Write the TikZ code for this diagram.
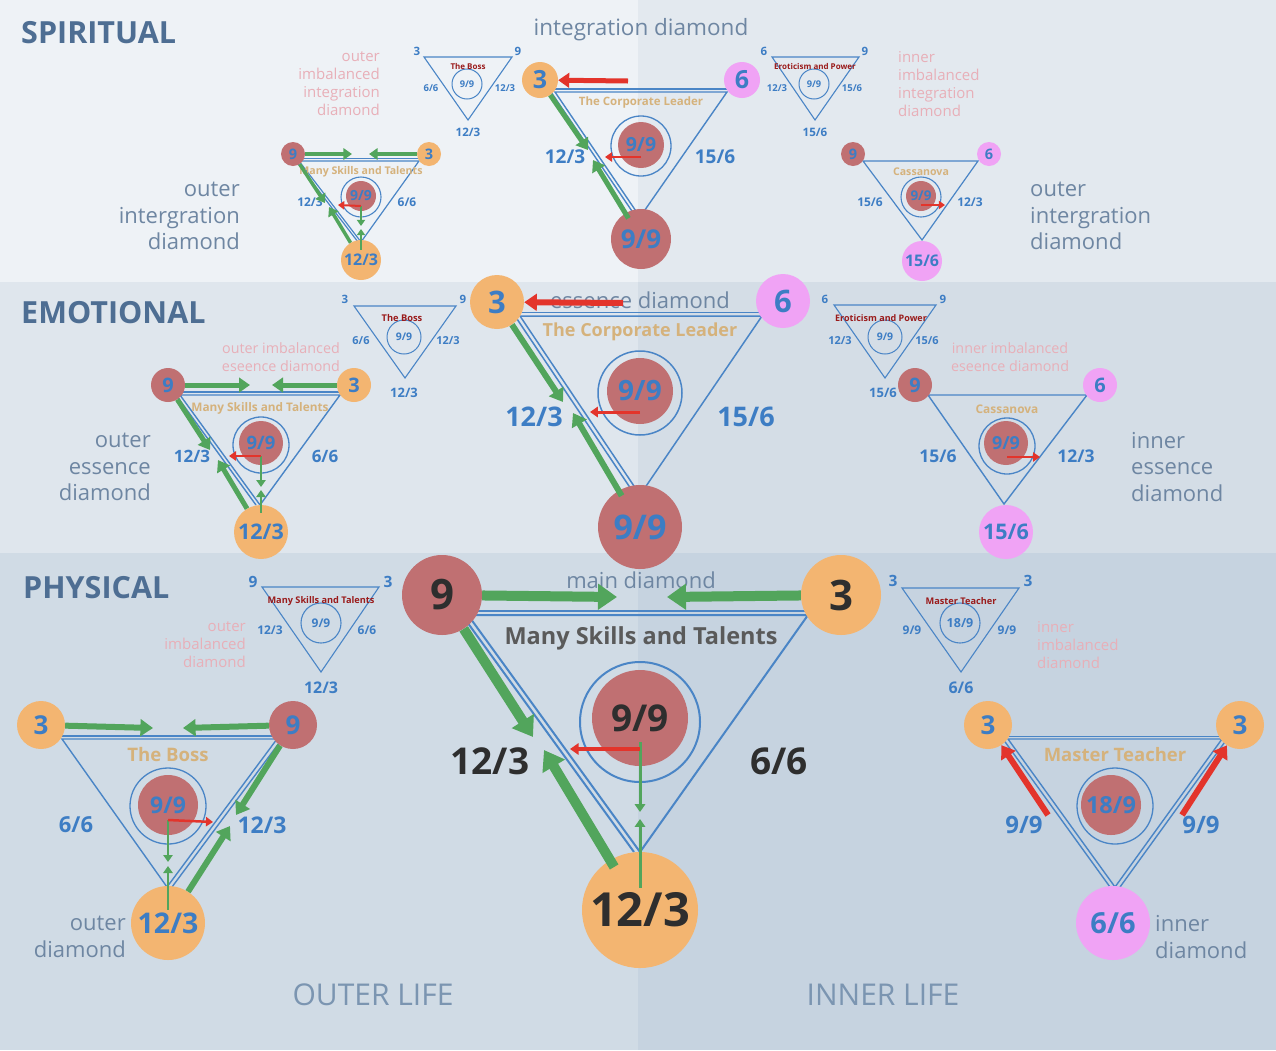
\documentclass[tikz,border=0pt]{standalone}
\usepackage{fontspec}
\setmainfont{Open Sans}
\usetikzlibrary{arrows.meta}
\definecolor{bgSa}{HTML}{EEF2F6}
\definecolor{bgSb}{HTML}{E3E9EF}
\definecolor{bgEa}{HTML}{DFE6ED}
\definecolor{bgEb}{HTML}{D4DDE6}
\definecolor{bgPa}{HTML}{D0DBE5}
\definecolor{bgPb}{HTML}{C6D3E0}
\definecolor{numblue}{HTML}{3D7DC4}
\definecolor{lblue}{HTML}{4A85C6}
\definecolor{corange}{HTML}{F3B571}
\definecolor{cred}{HTML}{C07072}
\definecolor{cpink}{HTML}{F0A3F5}
\definecolor{cgreen}{HTML}{52A55C}
\definecolor{carrow}{HTML}{E3342B}
\definecolor{ctan}{HTML}{D5B27C}
\definecolor{cdred}{HTML}{9A1B1B}
\definecolor{cimb}{HTML}{E8AFB8}
\definecolor{cslate}{HTML}{6E86A2}
\definecolor{chdr}{HTML}{4E6E93}
\definecolor{ccol}{HTML}{7B95B1}
\definecolor{cdark}{HTML}{2E2E2E}
\definecolor{cgray}{HTML}{5A5A5A}
\newcommand{\bsz}[1]{\fontsize{#1}{#1}\selectfont\bfseries}
\newcommand{\rsz}[2]{\fontsize{#1}{#2}\selectfont}

\begin{document}
\begin{tikzpicture}[x=1pt,y=-1pt,
    vx/.style={circle,inner sep=0pt,text=numblue},
    oc/.style={vx,fill=corange},
    rc/.style={vx,fill=cred},
    pc/.style={vx,fill=cpink},
    ring/.style={circle,draw=lblue,line width=1.3,inner sep=0pt,text=numblue},
    core/.style={circle,fill=cred,inner sep=0pt,text=numblue},
    edge/.style={draw=lblue,line width=1.4},
    medge/.style={draw=lblue,line width=1.1},
    num/.style={text=numblue,inner sep=0pt},
    ttl/.style={text=ctan,inner sep=0pt},
    mttl/.style={text=cdred,inner sep=0pt},
    imb/.style={text=cimb,inner sep=0pt},
    lbl/.style={text=cslate,inner sep=0pt},
    hdr/.style={text=chdr,inner sep=0pt,anchor=west,font=\bsz{30.5}},
    garr/.style={draw=cgreen,line width=#1,-{Triangle[length=3pt 1.6,width=4pt 2.1]}},
    rarr/.style={draw=carrow,line width=#1,-{Triangle[length=3pt 1.6,width=4pt 2.1]}}]
  \useasboundingbox (0,0) rectangle (1276,1050);
  \fill[bgSa] (0,0) rectangle (638,282);
  \fill[bgSb] (638,0) rectangle (1276,282);
  \fill[bgEa] (0,282) rectangle (638,553);
  \fill[bgEb] (638,282) rectangle (1276,553);
  \fill[bgPa] (0,553) rectangle (638,1050);
  \fill[bgPb] (638,553) rectangle (1276,1050);

  \node[hdr] (hS) at (21,33) {SPIRITUAL};
  \node[hdr] (hE) at (21,313) {EMOTIONAL};
  \node[hdr] (hP) at (23,588) {PHYSICAL};
  \node[text=ccol,font=\rsz{30}{30}] (cO) at (373,995) {OUTER LIFE};
  \node[text=ccol,font=\rsz{30}{30}] (cI) at (883,995) {INNER LIFE};

  \node[lbl,font=\rsz{22.5}{26.5}] (smN) at (641,30) {integration diamond};
  \node[imb,font=\rsz{15}{18},align=right,anchor=east] (slI) at (380,84) {outer\\imbalanced\\integration\\diamond};
  \node[imb,font=\rsz{15}{18},align=left,anchor=west] (srI) at (898,84) {inner\\imbalanced\\integration\\diamond};
  \node[lbl,font=\rsz{22}{26.5},align=right,anchor=east] (slN) at (240,216) {outer\\intergration\\diamond};
  \node[lbl,font=\rsz{22}{26.5},align=left,anchor=west] (srN) at (1030,216) {outer\\intergration\\diamond};

  \coordinate (sbA) at (424,57);
  \coordinate (sbB) at (512,57);
  \coordinate (sbC) at (468,120);
  \draw[medge] (sbA) -- (sbB) -- (sbC) -- cycle;
  \node[ring,line width=1,minimum size=30,font=\bsz{9.3}] (sbR) at (467,84) {9/9};
  \node[num,font=\bsz{11.5}] (sb3) at (417,51) {3};
  \node[num,font=\bsz{11.5}] (sb9) at (518,51) {9};
  \node[mttl,font=\bsz{8}] (sbT) at (468,66) {The Boss};
  \node[num,font=\bsz{9.5}] (sbL) at (431,88) {6/6};
  \node[num,font=\bsz{9.5}] (sbE) at (505,88) {12/3};
  \node[num,font=\bsz{11.6}] (sbD) at (468,132) {12/3};

  \coordinate (seA) at (772,57);
  \coordinate (seB) at (859,57);
  \coordinate (seC) at (815,120);
  \draw[medge] (seA) -- (seB) -- (seC) -- cycle;
  \node[ring,line width=1,minimum size=30,font=\bsz{9.3}] (seR) at (814,84) {9/9};
  \node[num,font=\bsz{11.5}] (se6) at (764,51) {6};
  \node[num,font=\bsz{11.5}] (se9) at (865,51) {9};
  \node[mttl,font=\bsz{8}] (seT) at (815,66) {Eroticism and Power};
  \node[num,font=\bsz{9.5}] (seL) at (777,88) {12/3};
  \node[num,font=\bsz{9.5}] (seE) at (852,88) {15/6};
  \node[num,font=\bsz{11.6}] (seD) at (815,132) {15/6};

  \coordinate (smA) at (555,92);
  \coordinate (smB) at (727,92);
  \coordinate (smC) at (640,217);
  \draw[edge] (smA) -- (smB) -- (smC) -- cycle;
  \draw[edge,transform canvas={yshift=3pt}] (smA) -- (smB);
  \draw[edge,transform canvas={xshift=-4pt}] (smA) -- (smC);
  \node[ring,minimum size=60] (smR) at (641,146) {};
  \node[core,minimum size=46,font=\bsz{19.5}] (smI) at (641,145) {9/9};
  \node[oc,minimum size=36,font=\bsz{25}] (sm3) at (540,80) {3};
  \node[pc,minimum size=36,font=\bsz{25}] (sm6) at (742,80) {6};
  \node[rc,minimum size=60,font=\bsz{26}] (sm9) at (641,239) {9/9};
  \node[ttl,font=\bsz{11.5}] (smT) at (641,103) {The Corporate Leader};
  \node[num,font=\bsz{19}] (smL) at (565,157) {12/3};
  \node[num,font=\bsz{19}] (smE) at (715,157) {15/6};
  \coordinate (sma) at (628,81);
  \coordinate (smb) at (588,150);
  \coordinate (smc) at (593,160);
  \coordinate (smd) at (641,157);
  \coordinate (sme) at (605,157);
  \draw[rarr=5] (sma) -- (sm3);
  \draw[garr=5] (sm3) -- (smb);
  \draw[garr=5,shorten <=-6pt] (sm9) -- (smc);
  \draw[rarr=2.5] (smd) -- (sme);

  \coordinate (slA) at (299,161);
  \coordinate (slB) at (419,161);
  \coordinate (slC) at (361,242);
  \draw[edge,line width=1.2] (slA) -- (slB) -- (slC) -- cycle;
  \draw[edge,line width=1.2,transform canvas={yshift=2.5pt}] (slA) -- (slB);
  \draw[edge,line width=1.2,transform canvas={xshift=-3pt}] (slA) -- (slC);
  \node[ring,line width=1.1,minimum size=40] (slR) at (361,197) {};
  \node[core,minimum size=30,font=\bsz{14}] (slI) at (361,196) {9/9};
  \node[rc,minimum size=24,font=\bsz{14.5}] (sl9) at (293,154) {9};
  \node[oc,minimum size=24,font=\bsz{14.5}] (sl3) at (429,154) {3};
  \node[oc,minimum size=40,font=\bsz{16}] (sl12) at (361,260) {12/3};
  \node[ttl,font=\bsz{10.6}] (slT) at (361,172) {Many Skills and Talents};
  \node[num,font=\bsz{12}] (slL) at (310,202) {12/3};
  \node[num,font=\bsz{12}] (slE) at (407,202) {6/6};
  \coordinate (sla) at (352,154);
  \coordinate (slb) at (369,154);
  \coordinate (slc) at (325,203);
  \coordinate (sld) at (329,207);
  \coordinate (sle) at (361,206);
  \coordinate (slf) at (361,226);
  \coordinate (slg) at (361,229);
  \coordinate (slh) at (338,205);
  \draw[garr=3.5] (sl9) -- (sla);
  \draw[garr=3.5] (sl3) -- (slb);
  \draw[garr=3.5] (sl9) -- (slc);
  \draw[garr=3.5] (sl12) -- (sld);
  \draw[garr=2] (sle) -- (slf);
  \draw[garr=2,shorten <=-10pt] (sl12) -- (slg);
  \draw[rarr=2] (sle) -- (slh);

  \coordinate (srA) at (863,161);
  \coordinate (srB) at (978,161);
  \coordinate (srC) at (922,240);
  \draw[edge,line width=1.2] (srA) -- (srB) -- (srC) -- cycle;
  \node[ring,line width=1.1,minimum size=40] (srR) at (921,197) {};
  \node[core,minimum size=30,font=\bsz{13.5}] (srI) at (921,196) {9/9};
  \node[rc,minimum size=24,font=\bsz{14.5}] (sr9) at (853,154) {9};
  \node[pc,minimum size=24,font=\bsz{14.5}] (sr6) at (989,154) {6};
  \node[pc,minimum size=40,font=\bsz{16}] (sr15) at (922,261) {15/6};
  \node[ttl,font=\bsz{10.6}] (srT) at (921,172) {Cassanova};
  \node[num,font=\bsz{12}] (srL) at (870,202) {15/6};
  \node[num,font=\bsz{12}] (srE) at (970,202) {12/3};
  \coordinate (sra) at (921,205);
  \coordinate (srb) at (945,205);
  \draw[rarr=2] (sra) -- (srb);

  \node[lbl,font=\rsz{22}{26.5}] (emN) at (640,300) {essence diamond};
  \node[imb,font=\rsz{14.3}{18},align=center] (elI) at (281,357) {outer imbalanced\\eseence diamond};
  \node[imb,font=\rsz{14.3}{18},align=center] (erI) at (1010,357) {inner imbalanced\\eseence diamond};
  \node[lbl,font=\rsz{22}{26.5},align=right,anchor=east] (elN) at (151,467) {outer\\essence\\diamond};
  \node[lbl,font=\rsz{22}{26.5},align=left,anchor=west] (erN) at (1131,467) {inner\\essence\\diamond};

  \coordinate (ebA) at (354,306);
  \coordinate (ebB) at (456,306);
  \coordinate (ebC) at (405,378);
  \draw[medge] (ebA) -- (ebB) -- (ebC) -- cycle;
  \node[ring,line width=1,minimum size=34,font=\bsz{10.5}] (ebR) at (404,337) {9/9};
  \node[num,font=\bsz{11.5}] (eb3) at (345,299) {3};
  \node[num,font=\bsz{11.5}] (eb9) at (463,299) {9};
  \node[mttl,font=\bsz{9.3}] (ebT) at (402,318) {The Boss};
  \node[num,font=\bsz{11}] (ebL) at (361,341) {6/6};
  \node[num,font=\bsz{11}] (ebE) at (448,341) {12/3};
  \node[num,font=\bsz{13}] (ebD) at (404,393) {12/3};

  \coordinate (eeA) at (834,305);
  \coordinate (eeB) at (936,305);
  \coordinate (eeC) at (885,378);
  \draw[medge] (eeA) -- (eeB) -- (eeC) -- cycle;
  \node[ring,line width=1,minimum size=34,font=\bsz{10.5}] (eeR) at (885,337) {9/9};
  \node[num,font=\bsz{11.5}] (ee6) at (825,299) {6};
  \node[num,font=\bsz{11.5}] (ee9) at (943,299) {9};
  \node[mttl,font=\bsz{9}] (eeT) at (881,318) {Eroticism and Power};
  \node[num,font=\bsz{11}] (eeL) at (840,341) {12/3};
  \node[num,font=\bsz{11}] (eeE) at (927,341) {15/6};
  \node[num,font=\bsz{13}] (eeD) at (883,393) {15/6};

  \coordinate (emA) at (520,316);
  \coordinate (emB) at (762,316);
  \coordinate (emC) at (640,495);
  \draw[edge,line width=1.5] (emA) -- (emB) -- (emC) -- cycle;
  \draw[edge,line width=1.5,transform canvas={yshift=3.5pt}] (emA) -- (emB);
  \draw[edge,line width=1.5,transform canvas={xshift=-5pt}] (emA) -- (emC);
  \node[ring,line width=1.5,minimum size=84] (emR) at (640,393) {};
  \node[core,minimum size=66,font=\bsz{28}] (emI) at (640,391) {9/9};
  \node[oc,minimum size=54,font=\bsz{31}] (em3) at (497,302) {3};
  \node[pc,minimum size=54,font=\bsz{31}] (em6) at (783,301) {6};
  \node[rc,minimum size=84,font=\bsz{34}] (em9) at (640,527) {9/9};
  \node[ttl,font=\bsz{18}] (emT) at (640,332) {The Corporate Leader};
  \node[num,font=\bsz{27}] (emL) at (534,417) {12/3};
  \node[num,font=\bsz{27}] (emE) at (746,417) {15/6};
  \coordinate (ema) at (623,303);
  \coordinate (emb) at (563,402);
  \coordinate (emc) at (573,413);
  \coordinate (emd) at (640,412);
  \coordinate (eme) at (590,412);
  \draw[rarr=6] (ema) -- (em3);
  \draw[garr=6] (em3) -- (emb);
  \draw[garr=6,shorten <=-6pt] (em9) -- (emc);
  \draw[rarr=3] (emd) -- (eme);

  \coordinate (elA) at (180,395);
  \coordinate (elB) at (340,395);
  \coordinate (elC) at (260,505);
  \draw[edge] (elA) -- (elB) -- (elC) -- cycle;
  \draw[edge,transform canvas={yshift=3pt}] (elA) -- (elB);
  \draw[edge,transform canvas={xshift=-4pt}] (elA) -- (elC);
  \node[ring,minimum size=56] (elR) at (261,445) {};
  \node[core,minimum size=44,font=\bsz{18.5}] (elI) at (261,443) {9/9};
  \node[rc,minimum size=34,font=\bsz{20}] (el9) at (168,385) {9};
  \node[oc,minimum size=34,font=\bsz{20}] (el3) at (354,385) {3};
  \node[oc,minimum size=54,font=\bsz{21.5}] (el12) at (261,532) {12/3};
  \node[ttl,font=\bsz{11.8}] (elT) at (260,408) {Many Skills and Talents};
  \node[num,font=\bsz{17}] (elL) at (192,456) {12/3};
  \node[num,font=\bsz{17}] (elE) at (325,456) {6/6};
  \coordinate (ela) at (250,385);
  \coordinate (elb) at (272,385);
  \coordinate (elc) at (210,450);
  \coordinate (eld) at (218,460);
  \coordinate (ele) at (261,456);
  \coordinate (elf) at (261,487);
  \coordinate (elg) at (261,490);
  \coordinate (elh) at (229,456);
  \draw[garr=5] (el9) -- (ela);
  \draw[garr=5] (el3) -- (elb);
  \draw[garr=5] (el9) -- (elc);
  \draw[garr=5] (el12) -- (eld);
  \draw[garr=2.5] (ele) -- (elf);
  \draw[garr=2.5,shorten <=-8pt] (el12) -- (elg);
  \draw[rarr=2.5] (ele) -- (elh);

  \coordinate (erA) at (928,395);
  \coordinate (erB) at (1087,395);
  \coordinate (erC) at (1004,504);
  \draw[edge] (erA) -- (erB) -- (erC) -- cycle;
  \node[ring,minimum size=56] (erR) at (1007,446) {};
  \node[core,minimum size=44,font=\bsz{18}] (erI) at (1006,443) {9/9};
  \node[rc,minimum size=34,font=\bsz{20}] (er9) at (915,385) {9};
  \node[pc,minimum size=34,font=\bsz{20}] (er6) at (1100,385) {6};
  \node[pc,minimum size=54,font=\bsz{21.5}] (er15) at (1006,532) {15/6};
  \node[ttl,font=\bsz{11.9}] (erT) at (1007,409) {Cassanova};
  \node[num,font=\bsz{17.5}] (erL) at (938,456) {15/6};
  \node[num,font=\bsz{17.5}] (erE) at (1076,456) {12/3};
  \coordinate (era) at (1007,457);
  \coordinate (erb) at (1040,457);
  \draw[rarr=2.5] (era) -- (erb);

  \node[lbl,font=\rsz{22}{26.5}] (pmN) at (641,580) {main diamond};
  \node[imb,font=\rsz{15}{18},align=right,anchor=east] (pkI) at (246,645) {outer\\imbalanced\\diamond};
  \node[imb,font=\rsz{15}{18},align=left,anchor=west] (ptI) at (1037,645) {inner\\imbalanced\\diamond};
  \node[lbl,font=\rsz{22}{26.5},align=right,anchor=east] (blN) at (126,937) {outer\\diamond};
  \node[lbl,font=\rsz{22}{26.5},align=left,anchor=west] (brN) at (1155,937) {inner\\diamond};

  \coordinate (pkA) at (262,587);
  \coordinate (pkB) at (379,587);
  \coordinate (pkC) at (321,672);
  \draw[medge] (pkA) -- (pkB) -- (pkC) -- cycle;
  \node[ring,line width=1.1,minimum size=40,font=\bsz{12}] (pkR) at (321,623) {9/9};
  \node[num,font=\bsz{15.5}] (pk9) at (253,582) {9};
  \node[num,font=\bsz{15.5}] (pk3) at (388,582) {3};
  \node[mttl,font=\bsz{9.2}] (pkT) at (321,601) {Many Skills and Talents};
  \node[num,font=\bsz{12}] (pkL) at (270,630) {12/3};
  \node[num,font=\bsz{12}] (pkE) at (367,630) {6/6};
  \node[num,font=\bsz{16}] (pkD) at (321,688) {12/3};

  \coordinate (ptA) at (902,588);
  \coordinate (ptB) at (1019,588);
  \coordinate (ptC) at (961,672);
  \draw[medge] (ptA) -- (ptB) -- (ptC) -- cycle;
  \node[ring,line width=1.1,minimum size=40,font=\bsz{12.5}] (ptR) at (960,623) {18/9};
  \node[num,font=\bsz{15.5}] (pt3a) at (893,581) {3};
  \node[num,font=\bsz{15.5}] (pt3b) at (1028,581) {3};
  \node[mttl,font=\bsz{9.2}] (ptT) at (961,601) {Master Teacher};
  \node[num,font=\bsz{12}] (ptL) at (912,630) {9/9};
  \node[num,font=\bsz{12}] (ptE) at (1007,630) {9/9};
  \node[num,font=\bsz{16}] (ptD) at (961,688) {6/6};

  \coordinate (pmA) at (468,615);
  \coordinate (pmB) at (808,615);
  \coordinate (pmC) at (640,852);
  \draw[edge,line width=2] (pmA) -- (pmB) -- (pmC) -- cycle;
  \draw[edge,line width=2,transform canvas={yshift=4pt}] (pmA) -- (pmB);
  \draw[edge,line width=2,transform canvas={xshift=-6pt}] (pmA) -- (pmC);
  \node[ring,line width=2,minimum size=120] (pmR) at (640,722) {};
  \node[core,minimum size=96,font=\bsz{37},text=cdark] (pmI) at (640,718) {9/9};
  \node[rc,minimum size=80,font=\bsz{42},text=cdark] (pm9) at (442,595) {9};
  \node[oc,minimum size=80,font=\bsz{42},text=cdark] (pm3) at (841,595) {3};
  \node[oc,minimum size=116,font=\bsz{47},text=cdark] (pm12) at (640,910) {12/3};
  \node[text=cgray,inner sep=0pt,font=\bsz{23.5}] (pmT) at (641,638) {Many Skills and Talents};
  \node[text=cdark,inner sep=0pt,font=\bsz{37}] (pmL) at (490,761) {12/3};
  \node[text=cdark,inner sep=0pt,font=\bsz{37}] (pmE) at (779,761) {6/6};
  \coordinate (pma) at (617,597);
  \coordinate (pmb) at (667,597);
  \coordinate (pmc) at (533,737);
  \coordinate (pmd) at (544,750);
  \coordinate (pme) at (640,742);
  \coordinate (pmf) at (640,812);
  \coordinate (pmg) at (640,819);
  \coordinate (pmh) at (640,749);
  \coordinate (pmi) at (570,749);
  \draw[garr=10] (pm9) -- (pma);
  \draw[garr=10] (pm3) -- (pmb);
  \draw[garr=10] (pm9) -- (pmc);
  \draw[garr=10,shorten <=-8pt] (pm12) -- (pmd);
  \draw[garr=3] (pme) -- (pmf);
  \draw[garr=3,shorten <=-36pt] (pm12) -- (pmg);
  \draw[rarr=3.5] (pmh) -- (pmi);

  \coordinate (blA) at (62,739);
  \coordinate (blB) at (277,739);
  \coordinate (blC) at (167,887);
  \draw[edge] (blA) -- (blB) -- (blC) -- cycle;
  \draw[edge,transform canvas={yshift=3pt}] (blA) -- (blB);
  \draw[edge,transform canvas={xshift=5pt}] (blB) -- (blC);
  \node[ring,minimum size=76] (blR) at (168,806) {};
  \node[core,minimum size=60,font=\bsz{23}] (blI) at (168,805) {9/9};
  \node[oc,minimum size=48,font=\bsz{26}] (bl3) at (41,725) {3};
  \node[rc,minimum size=48,font=\bsz{26}] (bl9) at (293,725) {9};
  \node[oc,minimum size=74,font=\bsz{28.5}] (bl12) at (168,923) {12/3};
  \node[ttl,font=\bsz{18.6}] (blT) at (168,755) {The Boss};
  \node[num,font=\bsz{22}] (blL) at (76,825) {6/6};
  \node[num,font=\bsz{23}] (blE) at (262,825) {12/3};
  \coordinate (bla) at (153,728);
  \coordinate (blb) at (183,728);
  \coordinate (blc) at (236,815);
  \coordinate (bld) at (230,826);
  \coordinate (ble) at (168,820);
  \coordinate (blf) at (168,862);
  \coordinate (blg) at (168,866);
  \coordinate (blh) at (213,822);
  \draw[garr=6] (bl3) -- (bla);
  \draw[garr=6] (bl9) -- (blb);
  \draw[garr=6] (bl9) -- (blc);
  \draw[garr=6] (bl12) -- (bld);
  \draw[garr=2.5] (ble) -- (blf);
  \draw[garr=2.5,shorten <=-24pt] (bl12) -- (blg);
  \draw[rarr=2.5] (ble) -- (blh);

  \coordinate (brA) at (1008,739);
  \coordinate (brB) at (1222,739);
  \coordinate (brC) at (1115,887);
  \draw[edge] (brA) -- (brB) -- (brC) -- cycle;
  \draw[edge,transform canvas={yshift=2.5pt}] (brA) -- (brB);
  \draw[edge,transform canvas={xshift=-5pt}] (brA) -- (brC);
  \draw[edge,transform canvas={xshift=5pt}] (brB) -- (brC);
  \node[ring,minimum size=76] (brR) at (1115,806) {};
  \node[core,minimum size=60,font=\bsz{23.5}] (brI) at (1111,805) {18/9};
  \node[oc,minimum size=48,font=\bsz{26}] (br3a) at (988,725) {3};
  \node[oc,minimum size=48,font=\bsz{26}] (br3b) at (1240,725) {3};
  \node[pc,minimum size=74,font=\bsz{29}] (br6) at (1113,923) {6/6};
  \node[ttl,font=\bsz{18.5}] (brT) at (1115,755) {Master Teacher};
  \node[num,font=\bsz{24}] (brL) at (1024,825) {9/9};
  \node[num,font=\bsz{24}] (brE) at (1201,825) {9/9};
  \coordinate (bra) at (1048,815);
  \coordinate (brb) at (1182,815);
  \draw[rarr=6] (bra) -- (br3a);
  \draw[rarr=6] (brb) -- (br3b);
\end{tikzpicture}
\end{document}
